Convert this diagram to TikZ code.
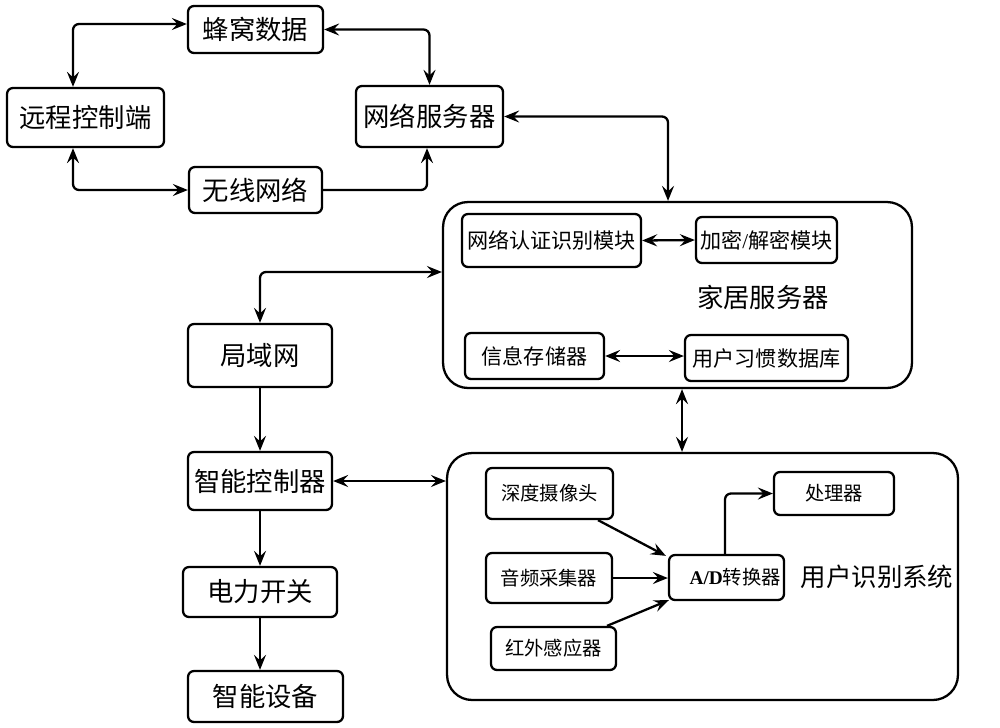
\documentclass[tikz,border=0pt]{standalone}
\usepackage{fontspec}
\usetikzlibrary{arrows.meta,calc}
\newfontfamily\cjk{Noto Sans CJK SC}
\newfontfamily\tnr{Liberation Serif}
\newcommand{\bigf}  {\cjk\fontsize{15}{17}\selectfont}
\newcommand{\midf}  {\cjk\fontsize{12}{14}\selectfont}
\newcommand{\smlf}  {\cjk\fontsize{11}{13}\selectfont}

\begin{document}
\begin{tikzpicture}[x=0.02cm,y=-0.02cm,
    line width=1.3pt,
    >={Stealth[length=0.3cm,width=0.24cm,inset=0.11cm]},
    box/.style={draw,rounded corners=0.12cm,inner sep=0pt,align=center},
    grp/.style={draw,rounded corners=0.5cm,inner sep=0pt},
    link/.style={rounded corners=0.12cm}]
      \useasboundingbox (0,0) rectangle (1000,727);
      % left column and top
      \node[box,minimum width=2.70cm,minimum height=0.94cm,font=\bigf] (cell)   at (255.5,29.5) {蜂窝数据};
      \node[box,minimum width=3.14cm,minimum height=1.18cm,font=\bigf] (remote) at (85.5,117.5)  {远程控制端};
      \node[box,minimum width=2.94cm,minimum height=1.22cm,font=\bigf] (netsrv) at (429.5,116.5) {网络服务器};
      \node[box,minimum width=2.66cm,minimum height=0.92cm,font=\bigf] (wifi)   at (255.5,190)   {无线网络};
      \node[box,minimum width=2.88cm,minimum height=1.26cm,font=\bigf] (lan)    at (260,355.5)   {局域网};
      \node[box,minimum width=2.88cm,minimum height=1.16cm,font=\bigf] (ctrl)   at (260,481)     {智能控制器};
      \node[box,minimum width=3.08cm,minimum height=1.00cm,font=\bigf] (power)  at (260,592)     {电力开关};
      \node[box,minimum width=3.10cm,minimum height=1.02cm,font=\bigf] (dev)    at (265.5,696.5) {智能设备};
      % home server
      \node[grp,minimum width=9.38cm,minimum height=3.72cm] (home) at (677.5,295) {};
      \node[font=\cjk\fontsize{15}{17}\selectfont] (homelbl) at (763,297) {家居服务器};
      \node[box,minimum width=3.58cm,minimum height=1.06cm,font=\midf] (auth)  at (551.5,240.5) {网络认证识别模块};
      \node[box,minimum width=2.82cm,minimum height=0.92cm,font=\midf] (crypt) at (766.5,240)   {加密{\tnr /}解密模块};
      \node[box,minimum width=2.78cm,minimum height=0.92cm,font=\midf] (store) at (534.5,356)   {信息存储器};
      \node[box,minimum width=3.26cm,minimum height=0.92cm,font=\midf] (habit) at (766.5,358)   {用户习惯数据库};
      % user recognition system
      \node[grp,minimum width=10.22cm,minimum height=4.94cm] (uid) at (702.5,576.5) {};
      \node[font=\cjk\fontsize{14.5}{17}\selectfont] (uidlbl) at (877,577) {用户识别系统};
      \node[box,minimum width=2.54cm,minimum height=1.02cm,font=\smlf] (cam) at (549.5,493.5) {深度摄像头};
      \node[box,minimum width=2.52cm,minimum height=1.00cm,font=\smlf] (mic) at (549,578)     {音频采集器};
      \node[box,minimum width=2.50cm,minimum height=0.86cm,font=\smlf] (ir)  at (553.5,648.5) {红外感应器};
      \node[box,minimum width=2.30cm,minimum height=0.90cm,font=\smlf] (ad)  at (726.5,577.5) {\hspace{0.35cm}{\tnr\bfseries A/D}转换器};
      \node[box,minimum width=2.40cm,minimum height=0.86cm,font=\smlf] (cpu) at (834,493.5)   {处理器};
      % connectors
      \draw[link,<->] ($(remote.north)+(-12.5,0)$) |- ($(cell.west)+(0,-5.5)$);
      \draw[link,<->] (cell.east) -| (netsrv.north);
      \draw[link,<->] ($(remote.south)+(-12.5,0)$) |- (wifi.west);
      \draw[link,->]  (wifi.east) -| ($(netsrv.south)+(-2.5,0)$);
      \draw[link,<->] (netsrv.east) -| ($(home.north)+(-9.5,0)$);
      \draw[<->] (auth.east) -- (crypt.west);
      \draw[<->] (store.east) -- (store.east -| habit.west);
      \draw[link,<->] (lan.north) |- ($(home.west)+(0,-23)$);
      \draw[->] (lan.south) -- (ctrl.north);
      \draw[<->] (ctrl.east) -- (ctrl.east -| uid.west);
      \coordinate (hu) at ($(home.south)+(4.5,0)$);
      \draw[<->] (hu) -- (hu |- uid.north);
      \draw[->] (ctrl.south) -- (power.north);
      \draw[->] (power.south) -- (power.south |- dev.north);
      \draw[->] ($(cam.south)+(48.5,0)$) -- ($(ad.north west)+(-2,2)$);
      \draw[->] (mic.east) -- (mic.east -| ad.west);
      \draw[->] ($(ir.north)+(53.5,0)$) -- ($(ad.south west)+(1,-1)$);
      \draw[link,->] ($(ad.north)+(-1.5,0)$) |- (cpu.west);
     \end{tikzpicture}
\end{document}
